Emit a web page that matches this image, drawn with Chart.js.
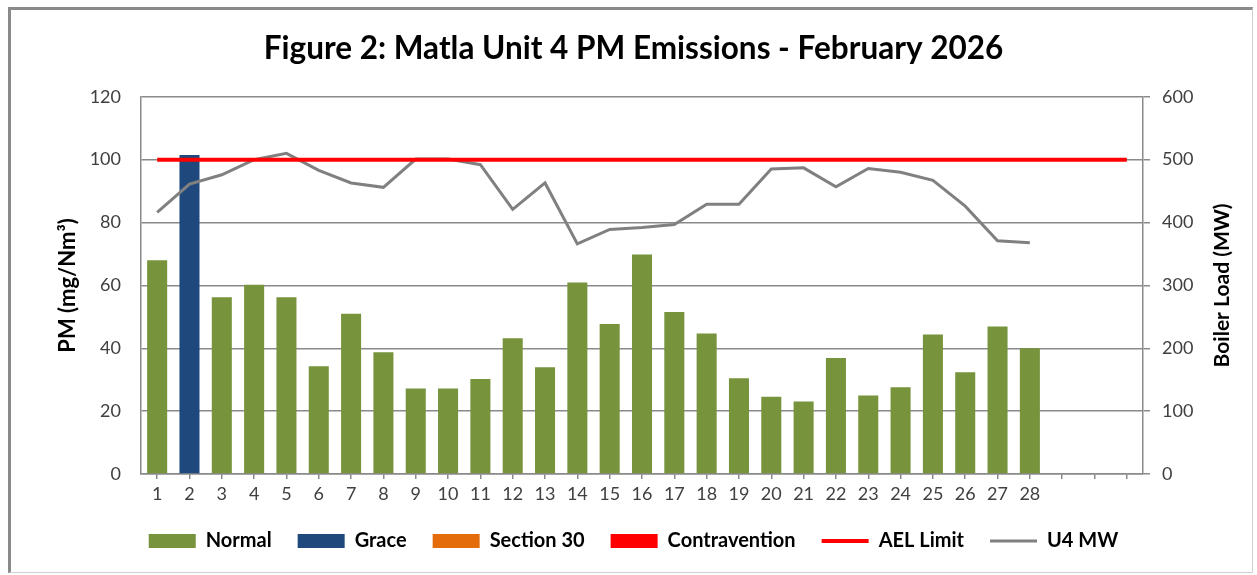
<!DOCTYPE html>
<html>
<head>
<meta charset="utf-8">
<script src="https://cdn.jsdelivr.net/npm/chart.js@4.4.1/dist/chart.umd.min.js"></script>
<style>
  body { margin: 0; background: #fff; }
  #wrap { position: relative; width: 1257px; height: 575px; }
  #frame {
    position: absolute; left: 8px; top: 7px; width: 1241px; height: 562px;
    border-left: 3px solid #8a8a8a; border-top: 3px solid #8a8a8a;
    border-right: 1px solid #d0d0d0; border-bottom: 1px solid #d0d0d0;
    pointer-events: none;
  }
</style>
</head>
<body>
<div id="wrap">
  <canvas id="pmChart"></canvas>
  <div id="frame"></div>
</div>
<script>
const days = ['1', '2', '3', '4', '5', '6', '7', '8', '9', '10', '11', '12', '13', '14',
  '15', '16', '17', '18', '19', '20', '21', '22', '23', '24', '25', '26', '27', '28', '', '', ''];

// PM in mg/Nm3 per day, split by status
const normal = [68, null, 56.2, 60.2, 56.2, 34.3, 51, 38.7, 27.2, 27.2, 30.2, 43.2, 34, 60.9,
  47.7, 69.8, 51.5, 44.7, 30.5, 24.6, 23.1, 36.9, 25, 27.6, 44.4, 32.4, 46.9, 40];
const grace = [null, 101.5];
const section30 = [];
const contravention = [];

const aelLimit = [100, 100, 100, 100, 100, 100, 100, 100, 100, 100, 100, 100, 100, 100, 100, 100,
  100, 100, 100, 100, 100, 100, 100, 100, 100, 100, 100, 100, 100, 100, 100];

// boiler load (MW)
const u4MW = [416, 461, 476, 500, 510, 483, 463, 456, 501, 501, 492, 421, 463, 366, 389, 392,
  397, 429, 429, 485, 487, 457, 486, 480, 467, 426, 371, 368];

const fontFam = 'Lato, "Open Sans", sans-serif';
const gridCol = '#8a8a8a';

// right axis title reads bottom-to-top like the left one
const rightTitle = {
  id: 'rightTitle',
  afterDraw(chart) {
    const c = chart.ctx;
    const s = chart.scales.y1;
    c.save();
    c.translate(s.left + 79, (chart.chartArea.top + chart.chartArea.bottom) / 2);
    c.rotate(-Math.PI / 2);
    c.font = 'bold 21px ' + fontFam;
    c.fillStyle = '#000';
    c.textAlign = 'center';
    c.textBaseline = 'middle';
    c.fillText('Boiler Load (MW)', 0, 0);
    c.restore();
  }
};

const barOpts = { grouped: false, categoryPercentage: 1, barPercentage: 0.62, order: 3 };

new Chart(document.getElementById('pmChart'), {
  data: {
    labels: days,
    datasets: [
      { type: 'bar', label: 'Normal', data: normal, backgroundColor: '#77933c', ...barOpts },
      { type: 'bar', label: 'Grace', data: grace, backgroundColor: '#1f497d', ...barOpts },
      { type: 'bar', label: 'Section 30', data: section30, backgroundColor: '#e46c0a', ...barOpts },
      { type: 'bar', label: 'Contravention', data: contravention, backgroundColor: '#ff0000', ...barOpts },
      { type: 'line', label: 'AEL Limit', data: aelLimit, borderColor: '#ff0000', borderWidth: 4,
        pointRadius: 0, tension: 0, yAxisID: 'y', order: 1 },
      { type: 'line', label: 'U4 MW', data: u4MW, borderColor: '#808080', borderWidth: 3,
        pointRadius: 0, tension: 0, yAxisID: 'y1', order: 2 }
    ]
  },
  options: {
    responsive: true,
    maintainAspectRatio: false,
    animation: false,
    layout: { padding: { left: 10, right: 0, top: 0, bottom: 14 } },
    plugins: {
      title: {
        display: true,
        text: 'Figure 2: Matla Unit 4 PM Emissions - February 2026',
        color: '#000',
        font: { family: fontFam, size: 31.5, weight: 'bold' },
        padding: { top: 30, bottom: 29 }
      },
      legend: {
        position: 'bottom',
        labels: {
          usePointStyle: true,
          pointStyleWidth: 47,
          boxHeight: 14,
          padding: 26,
          color: '#000',
          font: { family: fontFam, size: 20, weight: 'bold' },
          generateLabels(chart) {
            return chart.data.datasets.map((ds, i) => ({
              text: ds.label,
              fillStyle: ds.type === 'line' ? ds.borderColor : ds.backgroundColor,
              strokeStyle: ds.type === 'line' ? ds.borderColor : ds.backgroundColor,
              lineWidth: ds.type === 'line' ? ds.borderWidth : 0,
              pointStyle: ds.type === 'line' ? 'line' : 'rect',
              hidden: false,
              datasetIndex: i,
              fontColor: '#000'
            }));
          }
        }
      },
      tooltip: { enabled: false }
    },
    scales: {
      x: {
        offset: true,
        grid: { drawOnChartArea: false, offset: false, tickLength: 5, color: gridCol, lineWidth: 1.5 },
        border: { color: gridCol, width: 1.5 },
        ticks: { color: '#404040', font: { family: fontFam, size: 18 }, padding: 4, maxRotation: 0, autoSkip: false },
        afterFit(scale) { scale.height = 31; }
      },
      y: {
        position: 'left',
        min: 0, max: 120,
        ticks: { stepSize: 20, color: '#404040', font: { family: fontFam, size: 18 }, padding: 20 },
        grid: { color: gridCol, lineWidth: 1.5, drawTicks: false },
        border: { color: gridCol, width: 1.5 },
        title: {
          display: true,
          text: 'PM (mg/Nm³)',
          color: '#000',
          font: { family: fontFam, size: 22, weight: 'bold' },
          padding: { top: 45, bottom: 0 }
        },
        afterFit(scale) { scale.width = 131; }
      },
      y1: {
        position: 'right',
        min: 0, max: 600,
        ticks: { stepSize: 100, color: '#404040', font: { family: fontFam, size: 18 }, padding: 12 },
        grid: { drawOnChartArea: false, tickLength: 7, color: gridCol, lineWidth: 1.5 },
        border: { color: gridCol, width: 1.5 },
        afterFit(scale) { scale.width = 114; }
      }
    }
  },
  plugins: [rightTitle]
});
</script>
</body>
</html>
